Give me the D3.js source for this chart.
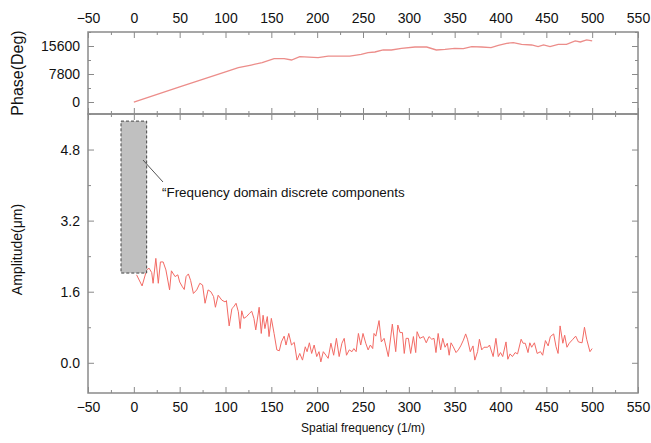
<!DOCTYPE html>
<html>
<head>
<meta charset="utf-8">
<script src="https://cdn.jsdelivr.net/npm/d3@7"></script>
<style>
  body { margin: 0; background: #fff; }
  svg { display: block; }
  .tick text { font-family: "Liberation Sans", Arial, sans-serif; font-size: 14px; fill: #111; }
  .tick line { stroke: #8a8a8a; }
  .domain { display: none; }
</style>
</head>
<body>
<svg id="chart" width="651" height="443"></svg>
<script>
// spatial frequency (1/m) and amplitude (um)
const ampFreq = [3, 9, 14, 16.6, 19.5, 21, 24, 26.7, 29, 32, 35, 39, 41, 45, 48, 50, 53, 55, 57, 59.5, 62, 65, 68.6, 72, 75, 77.7, 81, 84, 87, 89, 92, 96, 99.5, 101, 104, 107, 109, 111.5, 114, 116, 117.7, 120, 123, 126, 128.6, 131, 133, 136.7, 139, 141, 143, 145.6, 147.5, 150, 153, 156, 158.7, 161, 164, 166, 169, 172, 175, 178, 181, 184, 187, 189, 191.5, 194, 196.7, 199.5, 202, 204, 206.7, 209.6, 212, 215, 218, 221, 224, 227, 229.5, 232, 235, 238, 240, 242.5, 245, 247.5, 250, 253, 255.6, 258, 260.6, 262, 264, 267.5, 270, 273, 277.6, 282, 285.7, 288, 290.4, 293, 295, 297, 299.5, 302, 305, 307.5, 309, 312, 316, 319, 322, 325, 327.5, 329.6, 332, 334.7, 337, 339.5, 342, 344, 346, 348.5, 351.5, 354, 356.6, 359.5, 362, 364, 367, 370, 372, 375, 377, 379.5, 382, 386, 388, 392, 395, 397.6, 400, 402.4, 406, 408, 410.4, 413, 416, 418.6, 422.5, 424.6, 427, 430, 432, 434, 437, 440, 443.6, 446, 449, 452, 454.4, 458, 460.6, 462.8, 465, 468, 470, 472.5, 475, 479, 482, 485, 489, 491.6, 494, 497.6, 500]
const ampValue = [1.98, 1.73, 2.09, 2.13, 2.03, 1.79, 2.35, 1.79, 2.27, 2.27, 2.09, 1.64, 2.07, 1.94, 1.98, 1.82, 1.71, 1.65, 1.94, 2.0, 1.85, 1.56, 1.64, 1.79, 1.75, 1.34, 1.64, 1.6, 1.49, 1.25, 1.52, 1.41, 1.37, 1.4, 0.83, 1.22, 1.26, 1.34, 1.15, 0.77, 1.17, 1.0, 1.04, 1.11, 1.16, 1.0, 0.74, 1.25, 0.66, 1.07, 0.77, 1.04, 0.59, 1.0, 0.66, 0.29, 0.27, 0.47, 0.6, 0.4, 0.66, 0.4, 0.46, 0.06, 0.21, 0.06, 0.36, 0.25, 0.45, 0.21, 0.4, 0.14, 0.25, 0.02, 0.25, 0.17, 0.1, 0.44, 0.17, 0.55, 0.14, 0.44, 0.55, 0.17, 0.29, 0.25, 0.32, 0.25, 0.66, 0.4, 0.66, 0.44, 0.29, 0.4, 0.32, 0.66, 0.6, 0.95, 0.47, 0.55, 0.14, 0.87, 0.25, 0.85, 0.68, 0.68, 0.21, 0.55, 0.55, 0.21, 0.59, 0.23, 0.7, 0.55, 0.59, 0.45, 0.59, 0.53, 0.55, 0.23, 0.66, 0.29, 0.55, 0.35, 0.44, 0.17, 0.45, 0.36, 0.23, 0.29, 0.38, 0.51, 0.65, 0.53, 0.25, 0.38, 0.06, 0.25, 0.53, 0.29, 0.35, 0.35, 0.4, 0.14, 0.55, 0.14, 0.23, 0.14, 0.47, 0.08, 0.2, 0.14, 0.23, 0.2, 0.53, 0.44, 0.44, 0.23, 0.45, 0.35, 0.45, 0.21, 0.25, 0.17, 0.5, 0.38, 0.59, 0.65, 0.36, 0.21, 0.83, 0.44, 0.62, 0.35, 0.44, 0.53, 0.6, 0.47, 0.45, 0.8, 0.53, 0.25, 0.32]

// phase (deg)
const phaseFreq = [0, 50, 100, 114, 128, 140, 153, 164, 172, 181, 201, 212, 223, 235.6, 248, 255.5, 263, 272, 281, 292, 306.7, 319.5, 330, 339.5, 350, 359.5, 368.6, 379.5, 389.7, 397.6, 406.7, 414, 423, 434, 441, 447, 454, 463, 472, 481.5, 487, 494, 500]
const phaseValue = [0, 4200, 8400, 9560, 10300, 11000, 12070, 12070, 11700, 12630, 12350, 12800, 12800, 12800, 13280, 13740, 13930, 14490, 14490, 14950, 15320, 15320, 14490, 14670, 14950, 14860, 15410, 15320, 15130, 15790, 16350, 16530, 16070, 15880, 15410, 15880, 15410, 16070, 16070, 17000, 16720, 17280, 17000]

// shaded box marking the discrete components
const boxFreq = [-14, 14]
const boxAmp = [2.02, 5.44]

const xMajor = d3.range(-50, 551, 50)
const xMinor = d3.range(-25, 550, 50)
const ampMajor = [0, 1.6, 3.2, 4.8]
const ampMinor = [0.8, 2.4, 4.0, 5.6]
const phaseMajor = [0, 7800, 15600]
const phaseMinor = [-3900, 3900, 11700, 19500]

const svg = d3.select('#chart')
const left = 88, right = 638
const phTop = 32, mid = 114, ampBottom = 393

const x = d3.scaleLinear().domain([-50, 550]).range([left, right])
const yAmp = d3.scaleLinear().domain([-0.68, 5.6]).range([ampBottom, mid])
const yPh = d3.scaleLinear().domain([-3340, 19500]).range([mid, phTop])

const axisColor = '#8a8a8a'

const drawAxes = (top, bottom, yScale, major, minor, fmt, topLabels, bottomLabels) => {
    // major + minor ticks, all pointing inward
    const addX = (gen, ty, vals, size, labels) => {
        svg.append('g').attr('transform', `translate(0,${ty})`)
            .call(gen(x).tickValues(vals).tickSize(size).tickPadding(9)
                .tickFormat(labels ? d3.format('') : ''))
    }
    addX(d3.axisTop, top, xMajor, -6, topLabels)
    addX(d3.axisTop, top, xMinor, -3, false)
    addX(d3.axisBottom, bottom, xMajor, -6, bottomLabels)
    addX(d3.axisBottom, bottom, xMinor, -3, false)

    const inside = minor.filter(v => yScale(v) >= top && yScale(v) <= bottom)
    svg.append('g').attr('transform', `translate(${left},0)`)
        .call(d3.axisLeft(yScale).tickValues(major).tickSize(-6).tickPadding(8).tickFormat(fmt))
    svg.append('g').attr('transform', `translate(${left},0)`)
        .call(d3.axisLeft(yScale).tickValues(inside).tickSize(-3).tickFormat(''))
    svg.append('g').attr('transform', `translate(${right},0)`)
        .call(d3.axisRight(yScale).tickValues(major).tickSize(-6).tickFormat(''))
    svg.append('g').attr('transform', `translate(${right},0)`)
        .call(d3.axisRight(yScale).tickValues(inside).tickSize(-3).tickFormat(''))

    svg.append('rect')
        .attr('x', left).attr('y', top)
        .attr('width', right - left).attr('height', bottom - top)
        .attr('fill', 'none')
        .attr('stroke', axisColor)
        .attr('stroke-width', 1.5)
}

drawAxes(phTop, mid, yPh, phaseMajor, phaseMinor, d3.format('d'), true, false)
drawAxes(mid, ampBottom, yAmp, ampMajor, ampMinor, d3.format('.1f'), false, true)

// phase line
svg.append('path')
    .datum(phaseFreq.map((f, i) => [f, phaseValue[i]]))
    .attr('fill', 'none')
    .attr('stroke', '#ec8d8a')
    .attr('stroke-width', 1.3)
    .attr('d', d3.line().x(d => x(d[0])).y(d => yPh(d[1])))

// amplitude line
svg.append('path')
    .datum(ampFreq.map((f, i) => [f, ampValue[i]]))
    .attr('fill', 'none')
    .attr('stroke', '#f36a64')
    .attr('stroke-width', 1)
    .attr('d', d3.line().x(d => x(d[0])).y(d => yAmp(d[1])))

// discrete component box
svg.append('rect')
    .attr('x', x(boxFreq[0]))
    .attr('y', yAmp(boxAmp[1]))
    .attr('width', x(boxFreq[1]) - x(boxFreq[0]))
    .attr('height', yAmp(boxAmp[0]) - yAmp(boxAmp[1]))
    .attr('fill', '#c0c0c0')
    .attr('stroke', '#444')
    .attr('stroke-width', 1)
    .attr('stroke-dasharray', '3,2')

svg.append('line')
    .attr('x1', 143).attr('y1', 160)
    .attr('x2', 163).attr('y2', 182)
    .attr('stroke', '#555')
    .attr('stroke-width', 1)

svg.append('text')
    .attr('x', 162).attr('y', 197)
    .attr('font-family', '"Liberation Sans", Arial, sans-serif')
    .attr('font-size', 13.4)
    .attr('fill', '#111')
    .text('\u201cFrequency domain discrete components')

// axis titles
svg.append('text')
    .attr('transform', `translate(23,${(phTop + mid) / 2}) rotate(-90)`)
    .attr('text-anchor', 'middle')
    .attr('font-family', '"Liberation Sans", Arial, sans-serif')
    .attr('font-size', 16)
    .attr('fill', '#111')
    .text('Phase(Deg)')

svg.append('text')
    .attr('transform', `translate(22,${(mid + ampBottom) / 2 - 4}) rotate(-90)`)
    .attr('text-anchor', 'middle')
    .attr('font-family', '"Liberation Sans", Arial, sans-serif')
    .attr('font-size', 14)
    .attr('fill', '#111')
    .text('Amplitude(\u03bcm)')

svg.append('text')
    .attr('x', (left + right) / 2)
    .attr('y', 432)
    .attr('text-anchor', 'middle')
    .attr('font-family', '"Liberation Sans", Arial, sans-serif')
    .attr('font-size', 12)
    .attr('fill', '#111')
    .text('Spatial frequency (1/m)')
</script>
</body>
</html>
